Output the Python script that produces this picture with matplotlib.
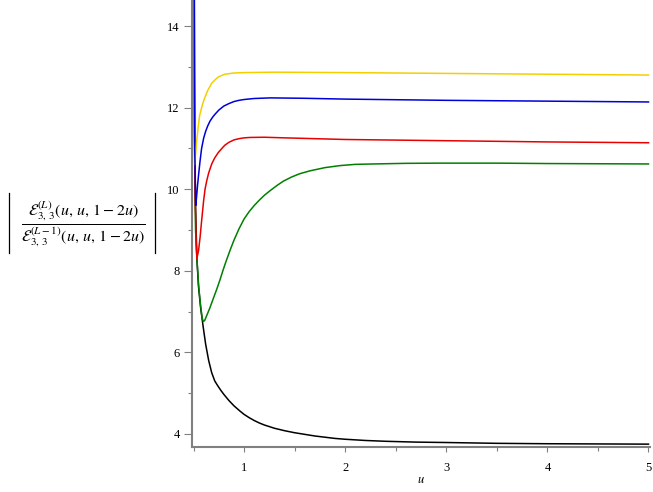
import matplotlib
matplotlib.use("Agg")
import matplotlib.pyplot as plt
from matplotlib.lines import Line2D
from matplotlib.ticker import MultipleLocator

plt.rcParams["font.family"] = ["Liberation Serif", "DejaVu Serif"]
plt.rcParams["mathtext.fontset"] = "stix"

# curves (u, ratio)
u_black = [0.501, 0.503, 0.51, 0.52, 0.533, 0.55, 0.57, 0.597, 0.62, 0.65, 0.68,
           0.71, 0.74, 0.77, 0.8, 0.85, 0.9, 0.96, 1.0, 1.05, 1.1, 1.15, 1.2,
           1.3, 1.4, 1.5, 1.6, 1.7, 1.8, 1.9, 2.0, 2.2, 2.4, 2.7, 3.0, 3.5,
           4.0, 4.5, 5.0]
y_black = [20.0, 14.6, 11.5, 9.6, 8.3, 7.6, 7.1, 6.6, 6.2, 5.8, 5.5,
           5.3, 5.18, 5.07, 4.97, 4.82, 4.69, 4.56, 4.48, 4.4, 4.33, 4.27, 4.22,
           4.14, 4.08, 4.03, 3.99, 3.95, 3.92, 3.89, 3.87, 3.84, 3.82, 3.8, 3.79, 3.77,
           3.76, 3.755, 3.75]

u_green = [0.501, 0.505, 0.52, 0.535, 0.55, 0.57, 0.585, 0.597, 0.61, 0.63, 0.66,
           0.7, 0.73, 0.762, 0.79, 0.82, 0.861, 0.9, 0.95, 1.0, 1.05, 1.1, 1.15,
           1.2, 1.26, 1.33, 1.39, 1.47, 1.55, 1.65, 1.8, 1.95, 2.1, 2.28, 2.6,
           2.94, 3.5, 4.0, 4.5, 5.0]
y_green = [20.0, 12.0, 9.0, 8.25, 7.65, 7.15, 6.85, 6.76, 6.78, 6.9, 7.08,
           7.35, 7.55, 7.78, 8.0, 8.22, 8.5, 8.75, 9.03, 9.27, 9.45, 9.6, 9.73,
           9.85, 9.97, 10.1, 10.2, 10.3, 10.38, 10.45, 10.53, 10.58, 10.61, 10.62, 10.635,
           10.64, 10.64, 10.63, 10.625, 10.62]

u_red = [0.501, 0.515, 0.525, 0.533, 0.55, 0.564, 0.58, 0.6, 0.614, 0.63, 0.65,
         0.68, 0.71, 0.745, 0.78, 0.81, 0.85, 0.9, 0.95, 1.0, 1.06, 1.2, 1.4,
         1.7, 2.0, 2.5, 3.0, 3.5, 4.0, 4.5, 5.0]
y_red = [20.0, 10.0, 8.8, 8.3, 8.5, 8.8, 9.22, 9.72, 10.0, 10.2, 10.4,
         10.62, 10.77, 10.9, 11.0, 11.08, 11.15, 11.21, 11.24, 11.26, 11.27, 11.275, 11.26,
         11.24, 11.22, 11.205, 11.19, 11.175, 11.16, 11.15, 11.14]

u_blue = [0.501, 0.512, 0.522, 0.53, 0.54, 0.55, 0.565, 0.58, 0.6, 0.62, 0.64,
          0.663, 0.69, 0.713, 0.75, 0.8, 0.85, 0.9, 0.95, 1.0, 1.1, 1.26, 1.6,
          2.0, 2.5, 3.0, 3.5, 4.0, 4.5, 5.0]
y_blue = [20.0, 11.0, 9.6, 9.8, 10.1, 10.35, 10.7, 11.0, 11.25, 11.42, 11.55,
          11.67, 11.77, 11.84, 11.94, 12.04, 12.1, 12.15, 12.18, 12.2, 12.225, 12.24, 12.23,
          12.21, 12.195, 12.18, 12.17, 12.16, 12.15, 12.14]

u_yellow = [0.501, 0.508, 0.512, 0.52, 0.53, 0.545, 0.56, 0.58, 0.6, 0.614, 0.64,
            0.68, 0.72, 0.75, 0.81, 0.9, 1.0, 1.3, 2.0, 2.5, 3.0, 3.5, 4.0,
            4.5, 5.0]
y_yellow = [20.0, 11.5, 10.6, 10.85, 11.15, 11.5, 11.8, 12.0, 12.17, 12.26, 12.42,
            12.6, 12.7, 12.76, 12.82, 12.85, 12.86, 12.87, 12.86, 12.85, 12.84, 12.83, 12.82,
            12.81, 12.80]

fig = plt.figure(figsize=(6.53, 4.92), dpi=100)
ax = fig.add_axes([192 / 653, 45 / 492, 458 / 653, 447 / 492])

lw = 1.1
ax.plot(u_black, y_black, color="black", lw=lw)
ax.plot(u_green, y_green, color="#008000", lw=lw)
ax.plot(u_red, y_red, color="#e80000", lw=lw)
ax.plot(u_yellow, y_yellow, color="#f2d000", lw=lw)
ax.plot(u_blue, y_blue, color="#0000d8", lw=lw)

ax.set_xlim(0.485, 5.015)
ax.set_ylim(3.68, 14.64)

for s in ("top", "right"):
    ax.spines[s].set_visible(False)
for s in ("left", "bottom"):
    ax.spines[s].set_color("#808080")
    ax.spines[s].set_linewidth(1.5)

ax.xaxis.set_major_locator(MultipleLocator(1))
ax.xaxis.set_minor_locator(MultipleLocator(0.5))
ax.yaxis.set_major_locator(MultipleLocator(2))
ax.yaxis.set_minor_locator(MultipleLocator(1))
ax.tick_params(axis="both", which="both", color="#808080", width=0.8,
               labelsize=9, labelcolor="black")
ax.tick_params(axis="y", which="major", length=5.5)
ax.tick_params(axis="y", which="minor", length=3)
ax.tick_params(axis="x", which="major", length=3.5, pad=7)
ax.tick_params(axis="x", which="minor", length=3)

ax.set_xlabel(r"$u$", fontsize=9, labelpad=0)

# y label: fraction with thin absolute-value bars
fig.text(83 / 653, 1 - 224 / 492,
         r"$\dfrac{\mathcal{E}_{3,\,3}^{(L)}(u,\, u,\, 1-2u)}"
         r"{\mathcal{E}_{3,\,3}^{(L-1)}(u,\, u,\, 1-2u)}$",
         ha="center", va="center", fontsize=11.5)
for xb in (9, 155):
    fig.add_artist(Line2D([xb / 653, xb / 653], [1 - 193 / 492, 1 - 253 / 492],
                          transform=fig.transFigure, color="black", lw=0.9))

fig.savefig("out.png", dpi=100)
